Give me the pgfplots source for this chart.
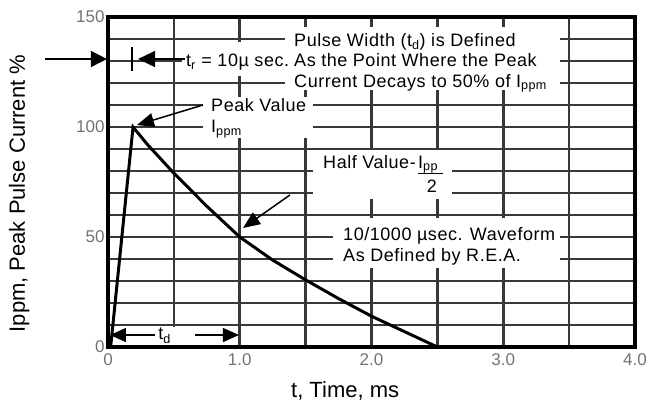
\documentclass[border=0pt]{standalone}
\usepackage{pgfplots}
\pgfplotsset{compat=1.18}
\usepackage{fontspec}
\setmainfont{Liberation Sans}
\newfontfamily\annfont[LetterSpace=3]{Liberation Sans}
\usetikzlibrary{arrows.meta}
\newcommand\ann{\annfont\fontsize{18}{21}\selectfont}
\begin{document}
\begin{tikzpicture}
\begin{axis}[
  name=ax,
  scale only axis,
  width=527pt, height=330pt,
  xmin=0, xmax=4, ymin=0, ymax=150,
  xtick={0,1,2,3,4},
  xticklabels={0,1.0,2.0,3.0,4.0},
  minor xtick={0.5,1.5,2.5,3.5},
  ytick={0,50,100,150},
  minor ytick={10,20,30,40,60,70,80,90,110,120,130,140},
  grid=both,
  major grid style={line width=2.6pt, black!78},
  minor grid style={line width=2.6pt, black!78},
  major tick length=0pt, minor tick length=0pt,
  axis line style={line width=3.2pt},
  clip=false,
  tick label style={font=\fontsize{17}{20}\selectfont, text=black!55},
  x tick label style={yshift=-3pt},
  /pgf/number format/assume math mode=true,
  xlabel={t, Time, ms},
  ylabel={Ippm, Peak Pulse Current \%},
  label style={font=\fontsize{22}{26}\selectfont},
  x label style={at={(rel axis cs:0.45,-0.1515)}, anchor=base},
  y label style={at={(rel axis cs:-0.1575,0.465)}, anchor=base, rotate=0},
]
% waveform
\addplot[line width=3pt, black] coordinates {
  (0.02,0) (0.19,100) (0.3,92) (0.5,79) (0.75,64) (1.0,50) (1.25,39.5)
  (1.5,30.5) (1.75,22) (2.0,14) (2.25,7) (2.5,0)};

% white text boxes
\node[fill=white, minimum width=275pt, minimum height=63pt, inner sep=0pt] at (axis cs:2.387,131.1) {};
\node[fill=white, minimum width=108pt, minimum height=34pt, inner sep=0pt] at (axis cs:0.972,130.9) {};
\node[fill=white, minimum width=110pt, minimum height=41pt, inner sep=0pt] at (axis cs:1.139,104.3) {};
\node[fill=white, minimum width=139pt, minimum height=49pt, inner sep=0pt] at (axis cs:2.083,78.4) {};
\node[fill=white, minimum width=227pt, minimum height=50pt, inner sep=0pt] at (axis cs:2.569,47.3) {};
\node[fill=white, minimum width=45pt, minimum height=18pt, inner sep=0pt] at (axis cs:0.49,5) {};

% texts
\node[anchor=base west, inner sep=0pt, font=\ann] at (axis cs:1.412,136.5) {Pulse Width (t\textsubscript{d}) is Defined};
\node[anchor=base west, inner sep=0pt, font=\ann] at (axis cs:1.412,127.4) {As the Point Where the Peak};
\node[anchor=base west, inner sep=0pt, font=\ann] at (axis cs:1.412,118.0) {Current Decays to 50\% of I\textsubscript{ppm}};
\node[anchor=base west, inner sep=0pt, font=\ann] at (axis cs:0.592,127.5) {t\textsubscript{r} = 10µ sec.};
\node[anchor=base west, inner sep=0pt, font=\ann] at (axis cs:0.782,107) {Peak Value};
\node[anchor=base west, inner sep=0pt, font=\ann] at (axis cs:0.782,97.3) {I\textsubscript{ppm}};
\node[anchor=base west, inner sep=0pt, font=\ann] at (axis cs:1.632,81.2) {Half Value-};
\node[anchor=base west, inner sep=0pt, font=\ann] at (axis cs:2.353,81.2) {I\textsubscript{pp}};
\draw[line width=1.2pt] (axis cs:2.353,79.0) -- (axis cs:2.545,79.0);
\node[anchor=base, inner sep=0pt, font=\ann] at (axis cs:2.459,70.2) {2};
\node[anchor=base west, inner sep=0pt, font=\ann] at (axis cs:1.784,48.6) {10/1000 µsec. Waveform};
\node[anchor=base west, inner sep=0pt, font=\ann] at (axis cs:1.784,38.8) {As Defined by R.E.A.};
\node[anchor=base west, inner sep=0pt, font=\ann] at (axis cs:0.38,3.2) {t\textsubscript{d}};

% arrows
\draw[line width=1.5pt, -{Triangle[length=16pt,width=16pt]}] (axis cs:-0.478,130.9) -- (axis cs:-0.008,130.9);
\draw[line width=2pt] (axis cs:0.182,136.4) -- (axis cs:0.182,125.5);
\draw[line width=1.5pt, -{Triangle[length=17pt,width=16pt]}] (axis cs:0.584,130.9) -- (axis cs:0.228,130.9);
\draw[line width=1.5pt, -{Triangle[length=17pt,width=14pt]}] (axis cs:0.721,110) -- (axis cs:0.22,100.9);
\draw[line width=1.5pt, -{Triangle[length=17pt,width=14pt]}] (axis cs:1.381,69.1) -- (axis cs:1.025,54.1);
\draw[line width=1.5pt, -{Triangle[length=16pt,width=14pt]}] (axis cs:0.357,5.45) -- (axis cs:0.015,5.45);
\draw[line width=1.5pt, -{Triangle[length=16pt,width=14pt]}] (axis cs:0.66,5.45) -- (axis cs:0.994,5.45);
\end{axis}
\pgfresetboundingbox
\path ([xshift=-108pt,yshift=-55pt]ax.south west) rectangle ++(647pt,402pt);
\end{tikzpicture}
\end{document}
